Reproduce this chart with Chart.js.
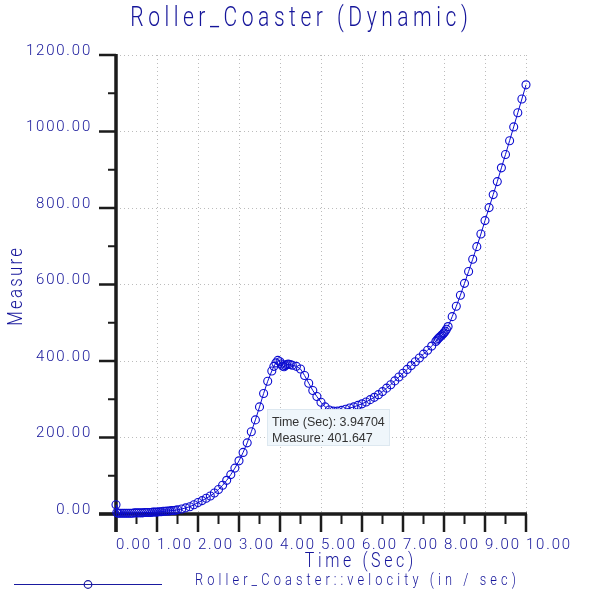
<!DOCTYPE html>
<html><head><meta charset="utf-8">
<script src="https://cdn.jsdelivr.net/npm/chart.js@4.4.1/dist/chart.umd.min.js"></script>
<style>html,body{margin:0;padding:0;background:#fff;}</style>
</head><body>
<canvas id="c" width="600" height="600" style="display:block;width:600px;height:600px"></canvas>
<script>
const chartTitle = 'Roller_Coaster (Dynamic)';
const xTitle = 'Time (Sec)';
const yTitle = 'Measure';
const seriesLabel = 'Roller_Coaster::velocity (in / sec)';
const xTickValues = [0, 1, 2, 3, 4, 5, 6, 7, 8, 9, 10];
const yTickValues = [0, 200, 400, 600, 800, 1000, 1200];
const timeSec = [0, 0.02, 0.05, 0.1, 0.15, 0.2, 0.25, 0.3, 0.35, 0.4, 0.45, 0.5, 0.55, 0.6, 0.65, 0.7, 0.75, 0.8, 0.85, 0.9, 0.95,
  1.0, 1.05, 1.1, 1.15, 1.2, 1.25, 1.3, 1.35, 1.4, 1.45, 1.5, 1.6, 1.7, 1.8, 1.9,
  2.0, 2.1, 2.2, 2.3, 2.4, 2.5, 2.6, 2.7, 2.8, 2.9,
  3.0, 3.1, 3.2, 3.3, 3.4, 3.5, 3.6, 3.7, 3.8, 3.85, 3.9, 3.94704,
  4.0, 4.03, 4.06, 4.1, 4.13, 4.16, 4.2, 4.25, 4.3, 4.4, 4.5, 4.6, 4.7, 4.8, 4.9,
  5.0, 5.1, 5.2, 5.3, 5.4, 5.5, 5.6, 5.7, 5.8, 5.9,
  6.0, 6.1, 6.2, 6.3, 6.4, 6.5, 6.6, 6.7, 6.8, 6.9,
  7.0, 7.1, 7.2, 7.3, 7.4, 7.5, 7.6, 7.7, 7.8, 7.83, 7.86, 7.89, 7.92, 7.95, 7.98,
  8.0, 8.03, 8.06, 8.1, 8.2, 8.3, 8.4, 8.5, 8.6, 8.7, 8.8, 8.9,
  9.0, 9.1, 9.2, 9.3, 9.4, 9.5, 9.6, 9.7, 9.8, 9.9, 10.0];
const velocity = [24, 4, 2, 2, 2, 2, 2, 2, 2, 2, 3, 3, 3, 3, 3, 4, 4, 4, 4, 5, 5,
  5, 6, 6, 7, 7, 8, 8, 9, 9, 10, 11, 13, 16, 19, 24,
  30, 35, 41, 47, 55, 64, 75, 88, 103, 120,
  139, 161, 186, 215, 246, 280, 315, 347, 374, 386, 395, 401.647,
  398, 392, 387, 385, 388, 391, 392, 391, 389, 386, 379, 362, 342, 323, 307,
  292, 280, 272, 269, 269, 271, 274, 277, 280, 284,
  288, 293, 299, 305, 312, 320, 329, 338, 348, 358,
  368, 378, 388, 398, 408, 418, 428, 439, 451, 455, 459, 462, 465, 468, 471,
  474, 478, 483, 490, 516, 543, 572, 603, 634, 666, 699, 732,
  767, 801, 835, 869, 905, 940, 976, 1012, 1049, 1085, 1122];
const tipTime = 3.94704;
const tipMeasure = 401.647;

const TEXT = '#15159a';
const LINE = '#0c0cd0';
const AXIS = '#1c1c1c';
const FONT = 'Roboto, "DejaVu Sans", sans-serif';

function spacedText(ctx, text, cx, cy, targetW, size, rot, sx) {
  ctx.save();
  ctx.font = '300 ' + size + 'px ' + FONT;
  ctx.letterSpacing = '0px';
  const base = ctx.measureText(text).width * sx;
  const sp = Math.max(0, (targetW - base) / text.length);
  ctx.letterSpacing = (sp / sx).toFixed(2) + 'px';
  ctx.fillStyle = TEXT;
  ctx.textAlign = 'left';
  ctx.textBaseline = 'middle';
  ctx.translate(cx, cy);
  if (rot) ctx.rotate(rot);
  ctx.scale(sx, 1);
  ctx.fillText(text, (-targetW / 2 + sp / 2) / sx, 0);
  ctx.restore();
}

const spacingPlugin = {
  id: 'spacing',
  beforeUpdate(chart) { chart.ctx.letterSpacing = '1.8px'; },
  beforeDraw(chart) { chart.ctx.letterSpacing = '1.8px'; }
};

const axesPlugin = {
  id: 'axesDeco',
  beforeDatasetsDraw(chart) {
    const ctx = chart.ctx, xs = chart.scales.x, ys = chart.scales.y;
    const x0 = xs.getPixelForValue(xTickValues[0]);
    const x1 = xs.getPixelForValue(xTickValues[xTickValues.length - 1]);
    const y0 = ys.getPixelForValue(yTickValues[0]);
    const y1 = ys.getPixelForValue(yTickValues[yTickValues.length - 1]);
    ctx.save();
    ctx.strokeStyle = AXIS;
    ctx.lineCap = 'butt';
    ctx.lineWidth = 2;
    ctx.beginPath();
    for (let i = 0; i < xTickValues.length - 1; i++) {
      const px = xs.getPixelForValue((xTickValues[i] + xTickValues[i + 1]) / 2);
      ctx.moveTo(px, y0); ctx.lineTo(px, y0 + 10);
    }
    for (let i = 0; i < yTickValues.length - 1; i++) {
      const py = ys.getPixelForValue((yTickValues[i] + yTickValues[i + 1]) / 2);
      ctx.moveTo(x0, py); ctx.lineTo(x0 - 8, py);
    }
    ctx.stroke();
    ctx.lineWidth = 2.5;
    ctx.beginPath();
    xTickValues.forEach(v => { const px = xs.getPixelForValue(v); ctx.moveTo(px, y0); ctx.lineTo(px, y0 + 18); });
    yTickValues.forEach(v => { const py = ys.getPixelForValue(v); ctx.moveTo(x0, py); ctx.lineTo(x0 - 17, py); });
    ctx.stroke();
    ctx.lineWidth = 3.5;
    ctx.beginPath();
    ctx.moveTo(x0, y1 - 1); ctx.lineTo(x0, y0 + 18);
    ctx.moveTo(x0 - 17, y0); ctx.lineTo(x1 + 1, y0);
    ctx.stroke();
    ctx.restore();
  },
  afterDraw(chart) {
    const ctx = chart.ctx, xs = chart.scales.x, ys = chart.scales.y;
    spacedText(ctx, chartTitle, 299, 19, 342, 27, 0, 0.78);
    spacedText(ctx, yTitle, 17, 287, 80, 21, -Math.PI / 2, 0.8);
    spacedText(ctx, xTitle, 359, 562, 112, 20, 0, 0.8);
    ctx.save();
    ctx.strokeStyle = '#1a1aa0';
    ctx.lineWidth = 1.2;
    ctx.beginPath(); ctx.moveTo(14, 584.5); ctx.lineTo(162, 584.5); ctx.stroke();
    ctx.beginPath(); ctx.arc(88, 584.5, 3.8, 0, Math.PI * 2); ctx.stroke();
    ctx.restore();
    spacedText(ctx, seriesLabel, 355.5, 581, 325, 16, 0, 0.8);
    const px = xs.getPixelForValue(tipTime), py = ys.getPixelForValue(tipMeasure);
    const bx = Math.round(px - 11) + 0.5, by = Math.round(py + 49) + 0.5;
    ctx.save();
    ctx.letterSpacing = '0px';
    ctx.fillStyle = '#eff6fb';
    ctx.strokeStyle = '#dde8f0';
    ctx.lineWidth = 1;
    ctx.fillRect(bx, by, 122, 36);
    ctx.strokeRect(bx, by, 122, 36);
    ctx.fillStyle = '#333333';
    ctx.font = '12.5px "Liberation Sans", Arial, sans-serif';
    ctx.textBaseline = 'alphabetic';
    ctx.textAlign = 'left';
    ctx.fillText('Time (Sec): ' + tipTime, bx + 4.5, by + 16);
    ctx.fillText('Measure: ' + tipMeasure, bx + 4.5, by + 32);
    ctx.restore();
  }
};

const points = timeSec.map((t, i) => ({ x: t, y: velocity[i] }));

new Chart(document.getElementById('c'), {
  type: 'line',
  data: {
    datasets: [{
      label: seriesLabel,
      data: points,
      borderColor: LINE,
      borderWidth: 1,
      pointStyle: 'circle',
      pointRadius: 4,
      pointBorderWidth: 1.1,
      pointBorderColor: LINE,
      pointBackgroundColor: 'rgba(0,0,0,0)',
      tension: 0,
      clip: false
    }]
  },
  options: {
    responsive: false,
    devicePixelRatio: 1,
    animation: false,
    events: [],
    layout: { padding: { top: 55, right: 74, left: 0, bottom: 0 } },
    plugins: { legend: { display: false }, title: { display: false }, tooltip: { enabled: false } },
    scales: {
      x: {
        type: 'linear',
        min: xTickValues[0],
        max: xTickValues[xTickValues.length - 1],
        afterBuildTicks: s => { s.ticks = xTickValues.map(v => ({ value: v })); },
        afterFit: s => { s.height = 86; },
        grid: { color: '#bcbcbc', lineWidth: 1, drawTicks: false },
        border: { display: false, dash: [1, 3] },
        ticks: {
          align: 'start', padding: 22, color: TEXT, autoSkip: false, maxRotation: 0, minRotation: 0,
          font: { family: FONT, size: 15, weight: '300' },
          callback: v => Number(v).toFixed(2)
        }
      },
      y: {
        type: 'linear',
        min: yTickValues[0],
        max: yTickValues[yTickValues.length - 1],
        afterBuildTicks: s => { s.ticks = yTickValues.map(v => ({ value: v })); },
        afterFit: s => { s.width = 116; },
        grid: { color: '#bcbcbc', lineWidth: 1, drawTicks: false },
        border: { display: false, dash: [1, 3] },
        ticks: {
          padding: 24, color: TEXT, autoSkip: false,
          font: { family: FONT, size: 15, weight: '300', lineHeight: '8px' },
          callback: v => [Number(v).toFixed(2), '']
        }
      }
    }
  },
  plugins: [spacingPlugin, axesPlugin]
});
</script>
</body></html>
